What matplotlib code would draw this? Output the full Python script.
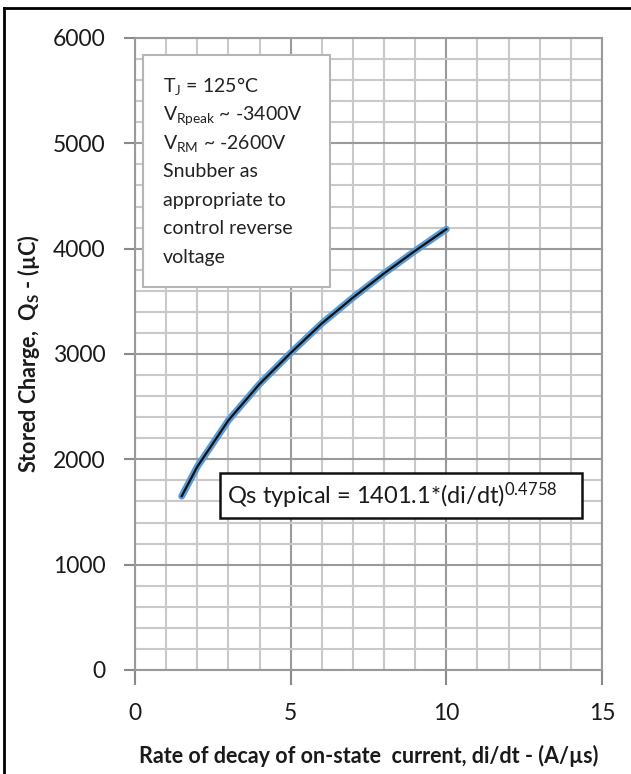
import matplotlib
matplotlib.use("Agg")
import matplotlib.pyplot as plt
from matplotlib.ticker import MultipleLocator
from matplotlib.lines import Line2D
from matplotlib.patches import Rectangle

plt.rcParams['font.family'] = ['Lato', 'DejaVu Sans']
plt.rcParams['mathtext.fontset'] = 'custom'
plt.rcParams['mathtext.rm'] = 'Lato'
plt.rcParams['mathtext.it'] = 'Lato:italic'
plt.rcParams['mathtext.bf'] = 'Lato:bold'

didt = [1.5, 2, 3, 4, 5, 6, 7, 8, 9, 10]
qs = [1650, 1930, 2370, 2715, 3010, 3290, 3535, 3765, 3980, 4185]

x_ticks = [0, 5, 10, 15]
y_ticks = [0, 1000, 2000, 3000, 4000, 5000, 6000]

conditions = [
    r"T$_\mathrm{J}$ = 125°C",
    r"V$_\mathrm{Rpeak}$ ~ -3400V",
    r"V$_\mathrm{RM}$ ~ -2600V",
    "Snubber as",
    "appropriate to",
    "control reverse",
    "voltage",
]
equation = r"Qs typical = 1401.1*(di/dt)$^\mathrm{0.4758}$"

fig = plt.figure(figsize=(6.31, 7.74), dpi=100)
ax = fig.add_axes([135 / 631, 1 - 670 / 774, 467 / 631, 632 / 774])

# grid
ax.set_xlim(0, 15); ax.set_ylim(0, 6000)
ax.set_xticks(x_ticks); ax.set_yticks(y_ticks)
ax.xaxis.set_minor_locator(MultipleLocator(1))
ax.yaxis.set_minor_locator(MultipleLocator(200))
ax.grid(which="minor", color="#c9c9c9", linewidth=1.5, zorder=0)
ax.grid(which="major", color="#9a9a9a", linewidth=1.5, zorder=0)
ax.set_axisbelow(True)
for s in ax.spines.values():
    s.set_color("#9a9a9a"); s.set_linewidth(1.5)
ax.tick_params(which="major", direction="out", color="#8a8a8a", width=1.5,
               labelsize=16.5, labelcolor="#1a1a1a")
ax.tick_params(axis="x", which="major", length=11, pad=13)
ax.tick_params(axis="y", which="major", length=8, pad=13)
ax.tick_params(which="minor", length=0)

# curve: blue data line with dark trace on top
ax.plot(didt, qs, color="#5b9bd5", linewidth=5, solid_capstyle="round", zorder=3)
ax.plot(didt, qs, color="#111111", linewidth=1.6, zorder=4)

ax.set_xlabel("Rate of decay of on-state  current, di/dt - (A/µs)", fontsize=15.5,
              fontweight="bold", color="#1a1a1a", labelpad=15)
ax.set_ylabel(r"Stored Charge,  Q$_\mathbf{S}$ - (µC)", fontsize=15.5,
              fontweight="bold", color="#1a1a1a", labelpad=8)

# conditions box, one text per line
ax.add_patch(Rectangle((0.017, 0.606), 0.401, 0.367, transform=ax.transAxes,
                       facecolor="white", edgecolor="#b5b5b5", linewidth=1.5,
                       clip_on=False, zorder=5))
for i, line in enumerate(conditions):
    ax.text(0.06, 0.928 - i * 0.0455, line, transform=ax.transAxes, fontsize=14,
            va="center_baseline", ha="left", color="#222222", zorder=6)

# equation box
ax.add_patch(Rectangle((0.182, 0.2405), 0.775, 0.0712, transform=ax.transAxes,
                       facecolor="white", edgecolor="#111111", linewidth=1.8,
                       clip_on=False, zorder=5))
ax.text(0.197, 0.276, equation, transform=ax.transAxes, fontsize=17,
        va="center", ha="left", color="#1a1a1a", zorder=6)

# outer frame (left and top edges)
fig.add_artist(Line2D([4 / 631, 4 / 631], [0, 1 - 8 / 774], color="black", linewidth=2))
fig.add_artist(Line2D([4 / 631, 1], [1 - 8 / 774, 1 - 8 / 774], color="black", linewidth=2))

fig.savefig("out.png", dpi=100)
